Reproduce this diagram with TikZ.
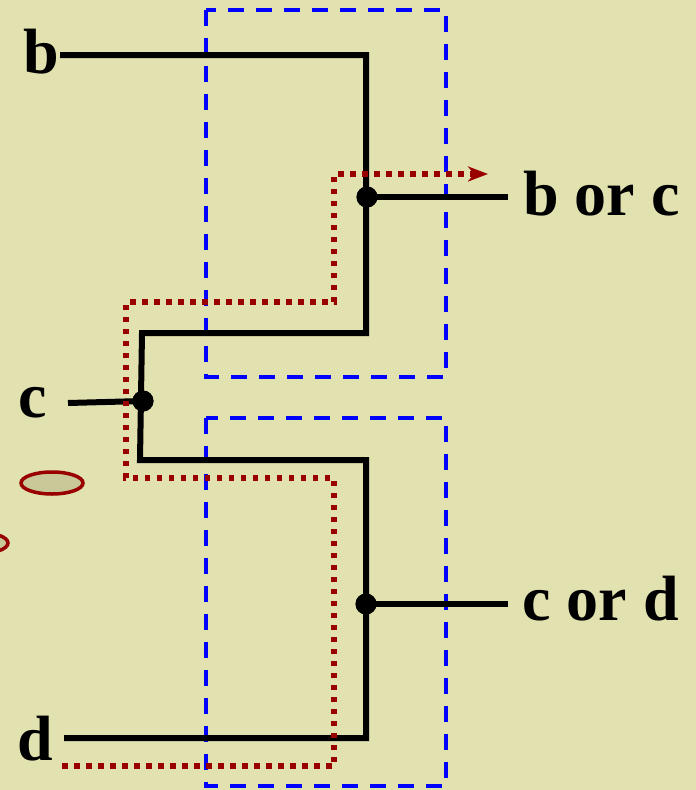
\documentclass[tikz,border=0pt]{standalone}
\usepackage{fontspec}
\setmainfont{Liberation Serif}
\usetikzlibrary{arrows.meta}
\definecolor{bgcol}{RGB}{226,226,176}
\definecolor{darkred}{RGB}{153,0,0}
\definecolor{ellfill}{RGB}{200,200,152}
\tikzset{
  wire/.style={line width=6pt, black, line cap=butt, line join=miter},
  dotnode/.style={circle, fill=black, inner sep=0pt, minimum size=21pt},
  lbl/.style={anchor=base west, inner sep=0pt, font=\fontsize{64}{70}\selectfont\bfseries},
  boxline/.style={draw=blue, line width=4pt, dash pattern=on 16pt off 12pt},
  pathline/.style={draw=darkred, line width=5.5pt, dash pattern=on 5.5pt off 6.5pt, line cap=butt},
  blob/.style={draw=darkred, line width=3.5pt, fill=ellfill}
}
\begin{document}
\begin{tikzpicture}[x=1pt,y=-1pt]
\fill[bgcol] (0,0) rectangle (696,790);
\useasboundingbox (0,0) rectangle (696,790);
\clip (0,0) rectangle (696,790);

% decorative ellipses
\draw[blob] (52,483) ellipse [x radius=31, y radius=11];
\draw[blob] (-23,543) ellipse [x radius=31, y radius=11];

% blue dashed boxes
\draw[boxline] (206,10) rectangle (446,377);
\draw[boxline] (206,418) rectangle (446,786);

% labels
\node[lbl] (b) at (23,73) {b};
\node[lbl] (c) at (18,417) {c};
\node[lbl] (d) at (17,760) {d};
\node[lbl] (bc) at (523,215) {b or c};
\node[lbl] (cd) at (522,620) {c or d};

% junction dots
\node[dotnode] (j1) at (367,197) {};
\node[dotnode] (j2) at (143,401) {};
\node[dotnode] (j3) at (366,604) {};

% wire coordinates
\coordinate (bs) at (60,55);
\coordinate (t1) at (366,55);
\coordinate (t2) at (366,333);
\coordinate (t3) at (142,333);
\coordinate (m1) at (140,460);
\coordinate (m2) at (366,460);
\coordinate (m3) at (366,738);
\coordinate (ds) at (64,738);
\coordinate (cs) at (68,403);
\coordinate (o1) at (508,197);
\coordinate (o2) at (508,604);

\draw[wire] (bs) -- (t1) -- (t2) -- (t3) -- (m1) -- (m2) -- (m3) -- (ds);
\draw[wire] (j1.center) -- (o1);
\draw[wire] (j3.center) -- (o2);
\draw[wire] (cs) -- (j2.center);
\node[dotnode] at (j1) {};
\node[dotnode] at (j2) {};
\node[dotnode] at (j3) {};

% red dotted signal path
\coordinate (r0) at (62,766);
\coordinate (r1) at (334,766);
\coordinate (r2) at (334,478);
\coordinate (r3) at (126,478);
\coordinate (r4) at (126,302);
\coordinate (r5) at (334,302);
\coordinate (r6) at (334,174);
\coordinate (r7) at (488,174);
\draw[pathline, -{Stealth[length=20pt,width=15pt,inset=6pt]}] (r0) -- (r1) -- (r2) -- (r3) -- (r4) -- (r5) -- (r6) -- (r7);
\end{tikzpicture}
\end{document}
